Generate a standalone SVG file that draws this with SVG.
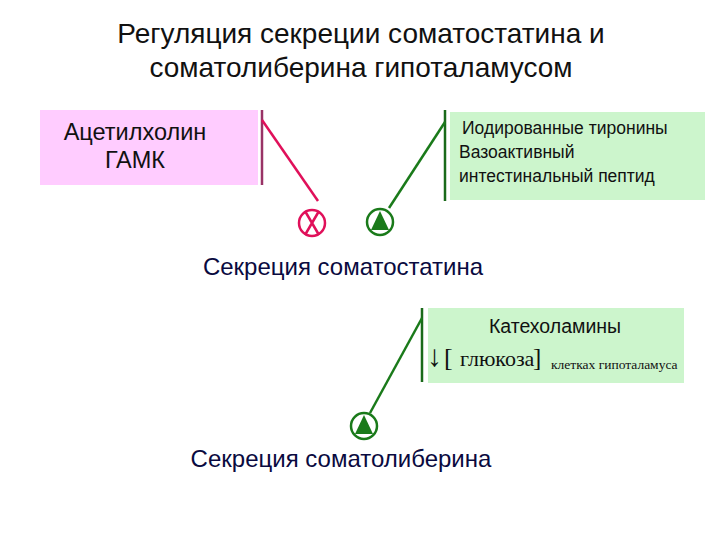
<svg xmlns="http://www.w3.org/2000/svg" width="720" height="540" viewBox="0 0 720 540">
<style>
text{font-family:"Liberation Sans",Arial,sans-serif;fill:#111}
.title{font-size:28px;text-anchor:middle}
.lbl{font-size:23.5px}
.sec{font-size:24px;text-anchor:middle;fill:#0a0a40}
.sm{font-size:17.5px}
.ser{font-family:"Liberation Serif","Times New Roman",serif}
.pink{stroke:#e0105a;stroke-width:2.5;fill:none}
.grn{stroke:#1a7a1a;stroke-width:2.5;fill:none}
</style>
<rect width="720" height="540" fill="#fff"/>
<g id="title">
<text class="title" x="361" y="43">Регуляция секреции соматостатина и</text>
<text class="title" x="361" y="77">соматолиберина гипоталамусом</text>
</g>
<g id="inhib-box">
<rect x="40" y="110" width="218" height="75" fill="#ffccff"/>
<text class="lbl" x="135" y="140" text-anchor="middle">Ацетилхолин</text>
<text class="lbl" x="135" y="168" text-anchor="middle">ГАМК</text>
</g>
<g id="stim-box">
<rect x="450" y="112" width="255" height="88" fill="#ccf5cc"/>
<text class="sm" x="462" y="134">Иодированные тиронины</text>
<text class="sm" x="459" y="158">Вазоактивный</text>
<text class="sm" x="459" y="182">интестинальный пептид</text>
</g>
<g id="somatostatin">
<text class="sec" x="343" y="275">Секреция соматостатина</text>
</g>
<g id="inhib-sign">
<circle class="pink" cx="312" cy="223" r="13"/>
<path class="pink" d="M305 211 L319 235 M319 211 L305 235" stroke-width="2"/>
</g>
<g id="stim-sign1">
<circle class="grn" cx="380" cy="222" r="13"/>
<polygon points="380,211 371,230 389,230" fill="#1a7a1a"/>
</g>
<g id="cat-box">
<rect x="428" y="308" width="256" height="75" fill="#ccf5cc"/>
<text x="555" y="333" font-size="19.5" text-anchor="middle">Катехоламины</text>
<text class="ser" y="366" font-size="22"><tspan x="427" font-size="30">↓</tspan><tspan x="444" font-size="26">[</tspan><tspan x="460">глюкоза</tspan><tspan x="533" font-size="25">]</tspan></text>
<text class="ser" x="551" y="369" font-size="13.5">клетках гипоталамуса</text>
</g>
<g id="stim-sign2">
<circle class="grn" cx="364" cy="426" r="13"/>
<polygon points="364,415 355,434 373,434" fill="#1a7a1a"/>
</g>
<g id="somatoliberin">
<text class="sec" x="341" y="467">Секреция соматолиберина</text>
</g>
<g id="connectors">
<line x1="262" y1="110" x2="262" y2="185" stroke="#993366" stroke-width="2.5"/>
<line class="pink" x1="262" y1="120" x2="318" y2="201"/>
<line x1="445" y1="110" x2="445" y2="201" stroke="#1a6a1a" stroke-width="2.5"/>
<line class="grn" x1="445" y1="122" x2="389" y2="208"/>
<line x1="422" y1="308" x2="422" y2="382" stroke="#1a6a1a" stroke-width="2.5"/>
<line class="grn" x1="422" y1="318" x2="370" y2="413"/>
</g>
</svg>
